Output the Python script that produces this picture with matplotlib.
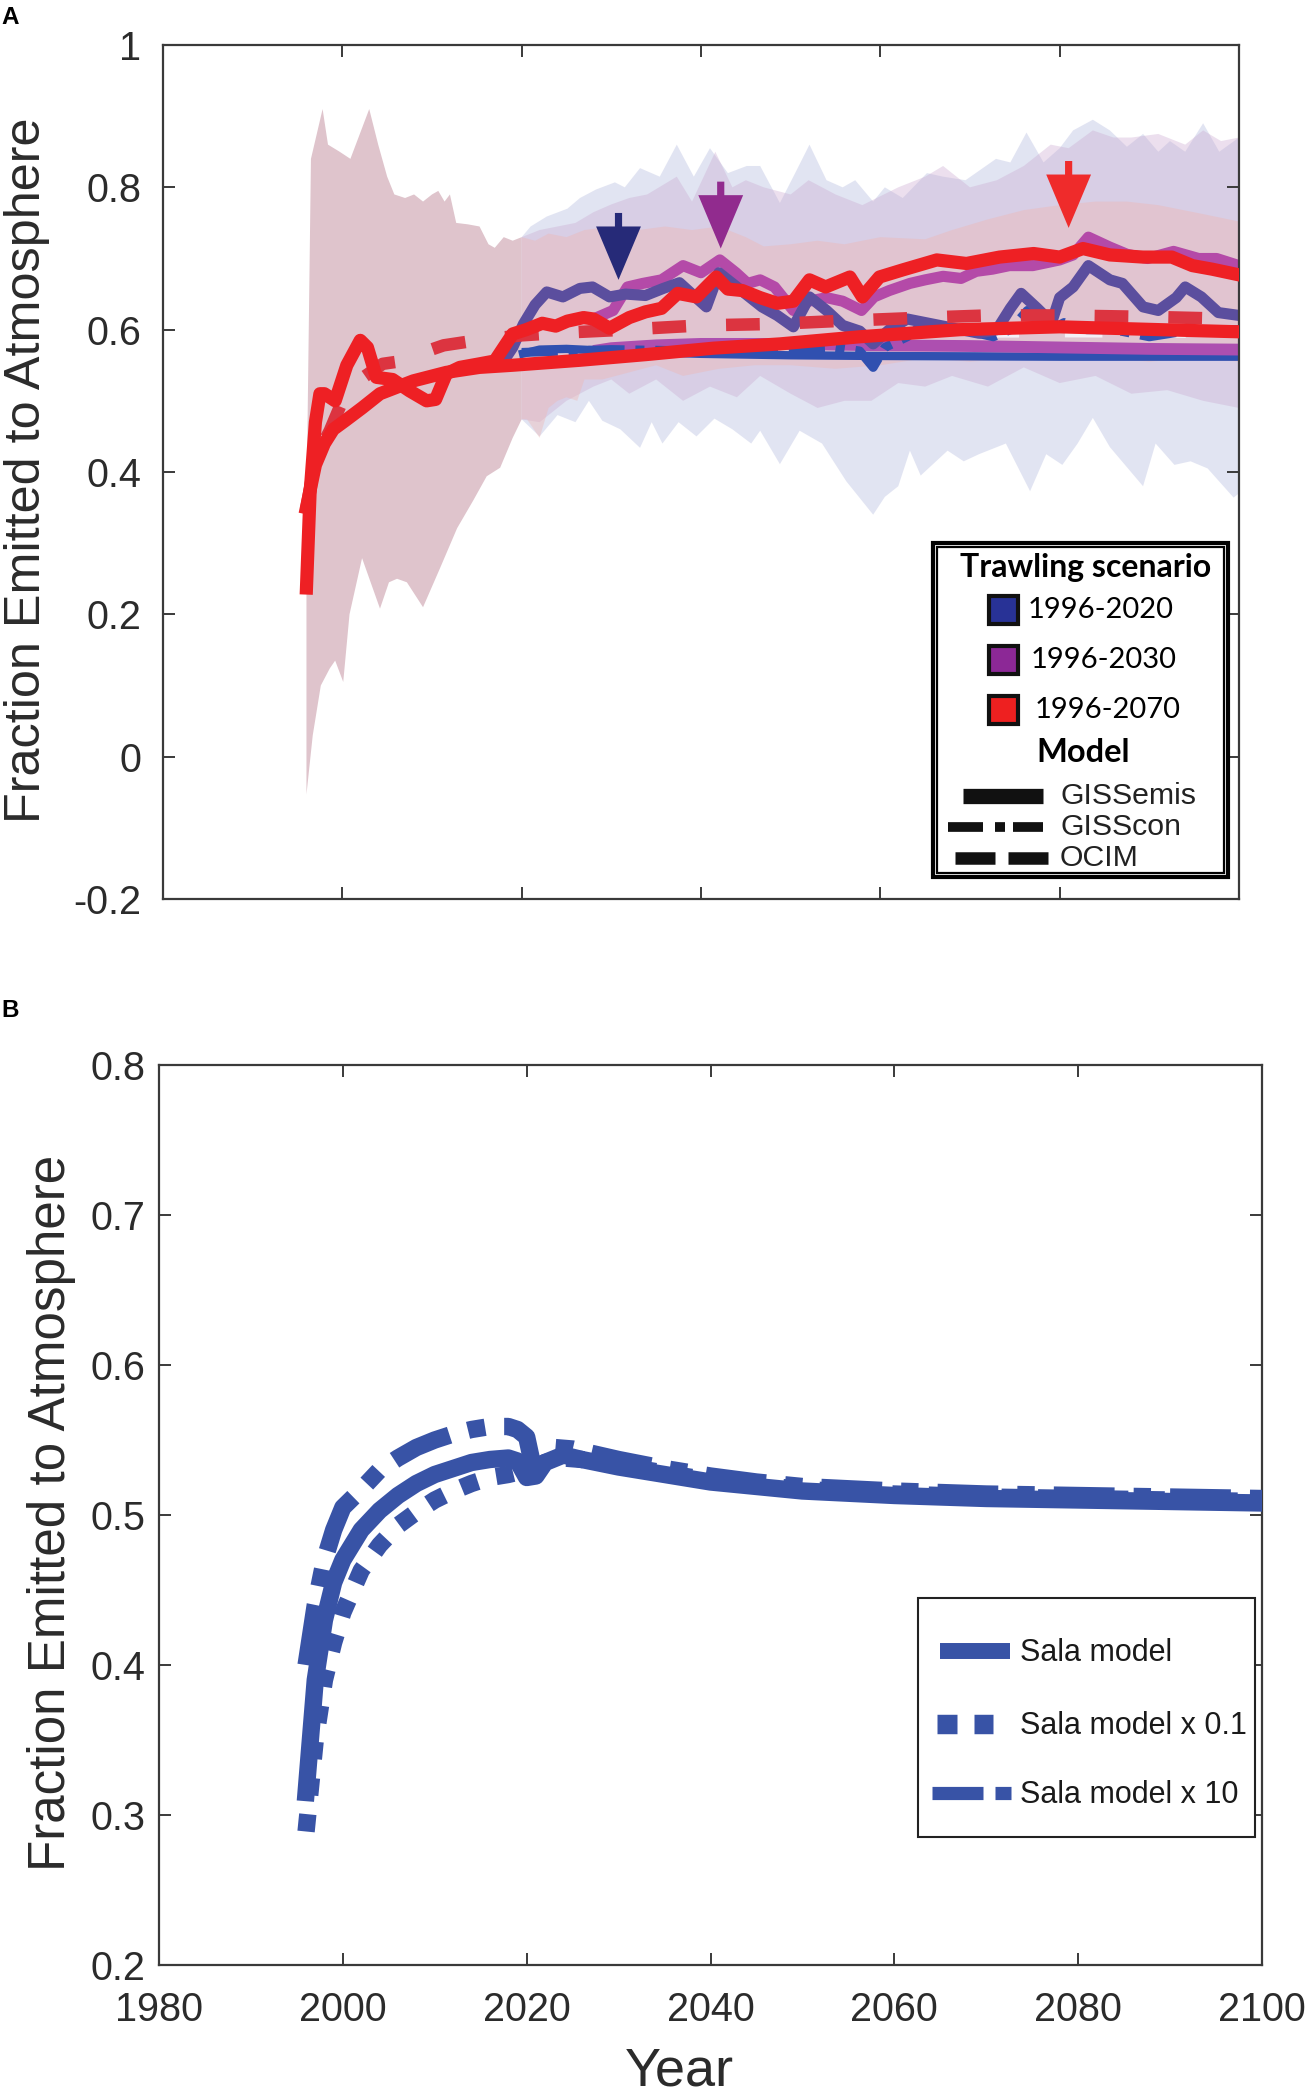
import numpy as np
import matplotlib
matplotlib.use("Agg")
import matplotlib.pyplot as plt
from matplotlib.patches import Rectangle
from matplotlib.lines import Line2D

plt.rcParams['font.family'] = ['Liberation Sans', 'DejaVu Sans']

# ---------------- DATA : panel A ----------------
# shared envelope (all scenarios identical before 2020)
common_up_x = [1996.0, 1996.5, 1997.8, 1998.4, 1999.7, 2000.9, 2003.0, 2004.0, 2005.0, 2005.8, 2007.0,
               2008.0, 2009.0, 2010.0, 2010.7, 2011.4, 2012.0, 2012.7, 2014.0, 2015.3, 2016.3, 2017.0,
               2018.0, 2019.0, 2020.0]
common_up_y = [0.35, 0.84, 0.91, 0.86, 0.85, 0.84, 0.91, 0.86, 0.815, 0.79, 0.785,
               0.79, 0.78, 0.79, 0.795, 0.78, 0.79, 0.75, 0.748, 0.745, 0.72, 0.715,
               0.73, 0.725, 0.73]
common_lo_x = [1996.0, 1996.7, 1997.6, 1998.6, 1999.2, 2000.1, 2000.8, 2002.2, 2004.2, 2005.2, 2006.1,
               2007.2, 2009.0, 2010.9, 2012.8, 2014.6, 2016.1, 2017.6, 2019.0, 2020.0]
common_lo_y = [-0.053, 0.03, 0.10, 0.124, 0.135, 0.105, 0.20, 0.279, 0.208, 0.245, 0.25,
               0.245, 0.21, 0.265, 0.321, 0.36, 0.394, 0.406, 0.448, 0.474]

# scenario envelopes after 2020
blue_up_x = [2020.0, 2021.0, 2022.8, 2025.1, 2026.5, 2028.3, 2030.4, 2031.5, 2033.2, 2035.4, 2037.3, 2039.2,
             2041.0, 2043.0, 2045.1, 2046.6, 2048.8, 2050.5, 2052.1, 2054.0, 2055.8, 2057.2, 2059.2, 2060.5,
             2062.5, 2065.2, 2067.0, 2069.5, 2072.9, 2074.5, 2076.3, 2078.2, 2080.0, 2081.5, 2083.7, 2085.6,
             2087.5, 2089.3, 2091.0, 2092.3, 2094.0, 2096.0, 2097.8, 2100.0]
blue_up_y = [0.73, 0.745, 0.759, 0.77, 0.785, 0.797, 0.807, 0.80, 0.827, 0.815, 0.86, 0.815,
             0.855, 0.82, 0.83, 0.83, 0.778, 0.82, 0.86, 0.81, 0.80, 0.81, 0.78, 0.80,
             0.785, 0.82, 0.815, 0.81, 0.84, 0.835, 0.877, 0.835, 0.855, 0.88, 0.895, 0.88,
             0.857, 0.875, 0.85, 0.865, 0.85, 0.89, 0.85, 0.87]
blue_lo_x = [2020.0, 2022.0, 2024.0, 2026.0, 2027.5, 2029.0, 2031.0, 2033.2, 2034.5, 2035.7, 2037.5, 2039.5,
             2041.5, 2043.5, 2045.6, 2046.6, 2048.8, 2051.0, 2053.5, 2056.2, 2059.2, 2060.5, 2062.0, 2063.3,
             2064.5, 2067.5, 2069.3, 2071.0, 2074.0, 2076.7, 2078.5, 2080.3, 2082.0, 2083.7, 2085.6, 2089.3,
             2090.7, 2092.8, 2094.6, 2096.5, 2099.4, 2100.0]
blue_lo_y = [0.474, 0.45, 0.48, 0.47, 0.50, 0.472, 0.46, 0.434, 0.47, 0.44, 0.47, 0.45,
             0.475, 0.46, 0.44, 0.458, 0.411, 0.458, 0.44, 0.387, 0.34, 0.365, 0.38, 0.43,
             0.395, 0.43, 0.415, 0.425, 0.44, 0.373, 0.425, 0.41, 0.44, 0.476, 0.435, 0.38,
             0.44, 0.41, 0.415, 0.405, 0.364, 0.37]
purple_up_x = [2020.0, 2022.0, 2024.0, 2026.0, 2028.0, 2030.0, 2032.0, 2034.0, 2037.3, 2039.0, 2041.6, 2043.5,
               2045.0, 2047.0, 2050.0, 2052.0, 2055.0, 2058.0, 2062.0, 2065.0, 2067.0, 2070.0, 2073.0, 2076.0,
               2079.0, 2081.0, 2083.7, 2086.0, 2088.0, 2091.0, 2094.0, 2096.0, 2098.0, 2100.0]
purple_up_y = [0.73, 0.74, 0.745, 0.75, 0.765, 0.776, 0.785, 0.79, 0.815, 0.78, 0.85, 0.80,
               0.81, 0.80, 0.79, 0.81, 0.79, 0.775, 0.80, 0.815, 0.83, 0.80, 0.81, 0.83,
               0.86, 0.855, 0.88, 0.87, 0.87, 0.875, 0.86, 0.88, 0.865, 0.87]
purple_lo_x = [2020.0, 2022.0, 2025.0, 2028.0, 2030.0, 2032.0, 2035.0, 2038.0, 2041.0, 2044.0, 2046.6, 2050.0,
               2053.0, 2056.0, 2059.0, 2062.0, 2065.0, 2068.0, 2072.0, 2076.0, 2080.0, 2084.0, 2088.0, 2092.0,
               2096.0, 2100.0]
purple_lo_y = [0.474, 0.47, 0.50, 0.52, 0.53, 0.51, 0.53, 0.50, 0.52, 0.505, 0.535, 0.51,
               0.49, 0.50, 0.50, 0.525, 0.52, 0.535, 0.52, 0.547, 0.525, 0.535, 0.51, 0.515,
               0.50, 0.49]
red_up_x = [2020.0, 2021.5, 2023.0, 2025.0, 2027.0, 2030.0, 2033.0, 2036.0, 2039.0, 2042.0, 2045.0, 2047.0,
            2050.0, 2053.0, 2056.0, 2060.0, 2065.0, 2068.0, 2072.0, 2076.0, 2080.0, 2084.0, 2087.5, 2091.0,
            2095.0, 2100.0]
red_up_y = [0.73, 0.725, 0.735, 0.73, 0.74, 0.745, 0.74, 0.745, 0.74, 0.745, 0.73, 0.717,
            0.72, 0.725, 0.72, 0.73, 0.727, 0.74, 0.755, 0.768, 0.775, 0.78, 0.78, 0.775,
            0.765, 0.752]
red_lo_x = [2020.0, 2020.6, 2022.0, 2023.0, 2024.0, 2025.0, 2026.2, 2027.0, 2029.0, 2032.0, 2035.0, 2038.0,
            2042.0, 2046.0, 2050.0, 2055.0, 2060.0, 2065.0, 2070.0, 2075.0, 2080.0, 2085.0, 2090.0, 2095.0,
            2100.0]
red_lo_y = [0.474, 0.474, 0.448, 0.49, 0.50, 0.505, 0.50, 0.53, 0.53, 0.54, 0.55, 0.535,
            0.545, 0.55, 0.55, 0.545, 0.55, 0.56, 0.555, 0.56, 0.565, 0.56, 0.555, 0.56,
            0.555]

# red scenario (1996-2070)
red_emis_x = [1996.0, 1996.4, 1997.0, 1997.5, 1998.0, 1999.2, 2000.5, 2002.0, 2002.8, 2003.8, 2005.6, 2007.5,
              2009.4, 2010.4, 2011.6, 2013.1, 2015.3, 2017.0, 2019.0, 2020.5, 2022.3, 2023.8, 2025.1, 2026.9,
              2028.0, 2029.8, 2032.0, 2033.8, 2035.6, 2037.4, 2039.5, 2041.7, 2043.0, 2044.6, 2046.6, 2048.5,
              2050.3, 2052.1, 2053.9, 2056.6, 2058.0, 2059.9, 2062.5, 2066.3, 2069.6, 2073.3, 2077.1, 2080.0,
              2082.6, 2085.6, 2089.3, 2092.5, 2094.8, 2097.0, 2100.0]
red_emis_y = [0.237, 0.37, 0.47, 0.51, 0.51, 0.50, 0.55, 0.585, 0.575, 0.533, 0.53, 0.514,
              0.50, 0.502, 0.538, 0.547, 0.552, 0.556, 0.594, 0.60, 0.609, 0.605, 0.612, 0.617,
              0.615, 0.602, 0.617, 0.625, 0.63, 0.651, 0.646, 0.674, 0.657, 0.655, 0.645, 0.637,
              0.64, 0.67, 0.66, 0.674, 0.646, 0.674, 0.684, 0.698, 0.693, 0.702, 0.707, 0.702,
              0.714, 0.705, 0.702, 0.702, 0.69, 0.685, 0.677]
red_con_x = [1996.0, 1996.5, 1997.0, 1998.0, 1999.0, 2000.3, 2002.2, 2004.2, 2007.9, 2011.6, 2015.3, 2019.0,
             2026.5, 2033.9, 2041.4, 2048.8, 2057.7, 2068.9, 2080.0, 2091.2, 2100.0]
red_con_y = [0.35, 0.38, 0.41, 0.44, 0.46, 0.472, 0.49, 0.51, 0.528, 0.54, 0.547, 0.55,
             0.557, 0.565, 0.574, 0.58, 0.59, 0.60, 0.604, 0.60, 0.597]
red_ocim_x = [1996.0, 1997.0, 1998.6, 2000.0, 2002.0, 2004.5, 2006.7, 2009.0, 2011.3, 2015.0, 2020.0, 2025.0,
              2030.0, 2040.0, 2048.0, 2055.0, 2065.0, 2072.0, 2080.0, 2090.0, 2100.0]
red_ocim_y = [0.35, 0.42, 0.458, 0.50, 0.53, 0.552, 0.556, 0.568, 0.578, 0.585, 0.592, 0.596,
              0.599, 0.606, 0.608, 0.612, 0.617, 0.62, 0.62, 0.618, 0.615]

# blue scenario (1996-2020)
blue_emis_x = [2018.0, 2019.0, 2020.2, 2021.5, 2022.8, 2024.6, 2026.5, 2027.9, 2029.8, 2031.6, 2033.8, 2035.8,
               2037.6, 2039.0, 2040.6, 2042.0, 2043.5, 2045.0, 2046.8, 2048.5, 2050.3, 2052.1, 2054.0, 2055.8,
               2057.7, 2059.2, 2061.0, 2063.0, 2065.0, 2067.0, 2069.0, 2071.0, 2073.0, 2074.5, 2075.7, 2077.5,
               2079.1, 2080.0, 2081.5, 2083.2, 2085.6, 2087.0, 2089.3, 2091.0, 2093.0, 2094.0, 2095.8, 2097.7,
               2100.0]
blue_emis_y = [0.556, 0.575, 0.608, 0.635, 0.653, 0.646, 0.658, 0.66, 0.646, 0.65, 0.648, 0.658,
               0.666, 0.65, 0.632, 0.68, 0.665, 0.65, 0.632, 0.62, 0.604, 0.646, 0.627, 0.606,
               0.598, 0.58, 0.60, 0.615, 0.61, 0.605, 0.60, 0.595, 0.60, 0.63, 0.651, 0.63,
               0.61, 0.645, 0.66, 0.69, 0.67, 0.665, 0.632, 0.627, 0.645, 0.66, 0.646, 0.624,
               0.62]
blue_con_x = [2020.0, 2030.0, 2040.0, 2050.0, 2055.0, 2057.7, 2059.2, 2060.5, 2063.0,
              2065.0, 2067.0, 2069.0, 2072.6, 2074.5, 2076.4, 2079.0, 2080.5, 2083.0, 2086.0, 2090.0, 2095.0,
              2100.0]
blue_con_y = [0.568, 0.572, 0.57, 0.572, 0.575, 0.57, 0.547, 0.575, 0.59,
              0.61, 0.60, 0.60, 0.59, 0.60, 0.627, 0.60, 0.61, 0.60, 0.60, 0.59, 0.60,
              0.60]
blue_ocim_x = [2019.7, 2022.0, 2025.0, 2030.0, 2040.0, 2050.0, 2060.0, 2080.0, 2100.0]
blue_ocim_y = [0.565, 0.572, 0.573, 0.57, 0.566, 0.564, 0.563, 0.562, 0.562]

# purple scenario (1996-2030)
purple_emis_x = [2028.0, 2030.2, 2031.8, 2033.5, 2035.6, 2038.0, 2040.0, 2042.1, 2043.9, 2045.2, 2046.6, 2048.2,
                 2050.3, 2052.0, 2054.0, 2055.8, 2057.9, 2059.3, 2061.0, 2063.3, 2065.0, 2067.0, 2069.0, 2070.7,
                 2072.5, 2074.4, 2077.0, 2080.0, 2081.5, 2083.2, 2085.6, 2087.5, 2089.8, 2092.7, 2095.5, 2097.5,
                 2100.0]
purple_emis_y = [0.615, 0.627, 0.66, 0.665, 0.67, 0.69, 0.68, 0.698, 0.68, 0.665, 0.67, 0.66,
                 0.627, 0.64, 0.645, 0.64, 0.627, 0.646, 0.655, 0.665, 0.67, 0.675, 0.672, 0.682,
                 0.685, 0.69, 0.69, 0.698, 0.705, 0.73, 0.716, 0.706, 0.70, 0.71, 0.70, 0.70,
                 0.69]
purple_con_x = [2028.0, 2030.0, 2035.0, 2040.0, 2050.0, 2060.0, 2070.0, 2080.0, 2090.0, 2100.0]
purple_con_y = [0.57, 0.574, 0.578, 0.58, 0.58, 0.578, 0.577, 0.575, 0.573, 0.572]
purple_ocim_x = [2062.0, 2080.0, 2100.0]
purple_ocim_y = [0.594, 0.595, 0.594]

# arrows marking the peaks
arrow_x = [2030.8, 2042.2, 2081.0]
arrow_top = [0.764, 0.808, 0.837]
arrow_tip = [0.67, 0.714, 0.743]

yticks_a = [-0.2, 0, 0.2, 0.4, 0.6, 0.8, 1]
yticklabels_a = ['-0.2', '0', '0.2', '0.4', '0.6', '0.8', '1']
xticks = [1980, 2000, 2020, 2040, 2060, 2080, 2100]
xticklabels = ['1980', '2000', '2020', '2040', '2060', '2080', '2100']

scenario_labels = ['1996-2020', '1996-2030', '1996-2070']
model_labels = ['GISSemis', 'GISScon', 'OCIM']

# ---------------- DATA : panel B ----------------
sala_x = [1996.0, 1997.0, 1998.0, 1999.0, 2000.0, 2002.0, 2004.0, 2006.0, 2008.0, 2010.0, 2012.0, 2014.0,
          2016.0, 2018.0, 2019.0, 2020.0, 2021.0, 2022.0, 2024.0, 2026.0, 2030.0, 2035.0, 2040.0, 2045.0,
          2050.0, 2060.0, 2070.0, 2080.0, 2090.0, 2100.0]
sala_y = [0.315, 0.39, 0.43, 0.455, 0.47, 0.49, 0.503, 0.513, 0.521, 0.527, 0.531, 0.535,
          0.537, 0.538, 0.536, 0.525, 0.526, 0.535, 0.54, 0.537, 0.532, 0.527, 0.522, 0.519,
          0.516, 0.513, 0.511, 0.51, 0.509, 0.508]
sala01_x = [1996.0, 1997.0, 1998.0, 1999.0, 2000.0, 2002.0, 2004.0, 2006.0, 2008.0, 2010.0, 2012.0, 2014.0,
            2016.0, 2018.0, 2020.0, 2022.0, 2024.0, 2026.0, 2030.0, 2035.0, 2040.0, 2045.0, 2050.0, 2060.0,
            2070.0, 2080.0, 2090.0, 2100.0]
sala01_y = [0.289, 0.35, 0.39, 0.415, 0.435, 0.463, 0.48, 0.493, 0.502, 0.51, 0.516, 0.521,
            0.525, 0.527, 0.53, 0.535, 0.538, 0.537, 0.533, 0.528, 0.523, 0.52, 0.517, 0.514,
            0.512, 0.511, 0.51, 0.509]
sala10_x = [1996.0, 1997.0, 1998.0, 1999.0, 2000.0, 2002.0, 2004.0, 2006.0, 2008.0, 2010.0, 2012.0, 2014.0,
            2016.0, 2018.0, 2019.0, 2020.0, 2020.6, 2021.5, 2023.0, 2025.0, 2030.0, 2035.0, 2040.0, 2045.0,
            2050.0, 2060.0, 2070.0, 2080.0, 2090.0, 2100.0]
sala10_y = [0.40, 0.44, 0.47, 0.49, 0.505, 0.517, 0.53, 0.538, 0.545, 0.55, 0.554, 0.557,
            0.559, 0.559, 0.557, 0.552, 0.535, 0.54, 0.545, 0.544, 0.537, 0.531, 0.526, 0.522,
            0.519, 0.516, 0.514, 0.513, 0.512, 0.511]
yticks_b = [0.2, 0.3, 0.4, 0.5, 0.6, 0.7, 0.8]
yticklabels_b = ['0.2', '0.3', '0.4', '0.5', '0.6', '0.7', '0.8']
sala_labels = ['Sala model', 'Sala model x 0.1', 'Sala model x 10']

# ---------------- FIGURE ----------------
W, H = 1307, 2098
fig = plt.figure(figsize=(W / 100, H / 100), dpi=100)
fig.patch.set_facecolor('white')

def FX(px):
    return px / W

def FY(py):
    return 1 - py / H

TXT = '#2b2b2b'
AXC = '#3a3a3a'

def style_axes(ax, pad_y):
    for s in ax.spines.values():
        s.set_color(AXC)
        s.set_linewidth(1.6)
    ax.tick_params(direction='in', length=8.5, width=1.4, colors=AXC,
                   top=True, right=True, labelsize=28.5, labelcolor=TXT)
    ax.tick_params(axis='y', pad=pad_y)
    ax.tick_params(axis='x', pad=19)

# ---- panel A ----
axA = fig.add_axes([FX(163), FY(899), FX(1239) - FX(163), FY(45) - FY(899)])
axA.set_xlim(1980, 2100)
axA.set_ylim(-0.2, 1.0)

def band(ax, ux, uy, lx, ly, **kw):
    px = np.concatenate([np.asarray(ux), np.asarray(lx)[::-1]])
    py = np.concatenate([np.asarray(uy), np.asarray(ly)[::-1]])
    ax.fill(px, py, lw=0, **kw)

band(axA, common_up_x, common_up_y, common_lo_x, common_lo_y, color='#dfc4cc', zorder=1)
band(axA, blue_up_x, blue_up_y, blue_lo_x, blue_lo_y, color='#c5cae6', alpha=0.5, zorder=1.1)
band(axA, purple_up_x, purple_up_y, purple_lo_x, purple_lo_y, color='#c9a6cf', alpha=0.35, zorder=1.2)
band(axA, red_up_x, red_up_y, red_lo_x, red_lo_y, color='#f0b4b0', alpha=0.38, zorder=1.3)

RED = '#ee2024'
SLATE = '#5b4e9e'
BBLUE = '#3050b0'
MAG = '#b44aa8'
PURP = '#ad4fb0'

axA.plot(blue_ocim_x, blue_ocim_y, color=BBLUE, lw=6, solid_capstyle='butt', zorder=2)
axA.plot(purple_con_x, purple_con_y, color=PURP, lw=8.5, solid_capstyle='butt', zorder=2.1)
axA.plot(purple_ocim_x, purple_ocim_y, color='#f4f0f7', lw=6, dashes=(4.5, 5.5), dash_capstyle='butt',
         zorder=2.15)
axA.plot(blue_con_x, blue_con_y, color=BBLUE, lw=6.5, dashes=(4, 1.2, 1, 1.2), dash_capstyle='butt',
         zorder=2.2)
axA.plot(purple_emis_x, purple_emis_y, color=MAG, lw=8, solid_joinstyle='round', zorder=2.3)
axA.plot(blue_emis_x, blue_emis_y, color=SLATE, lw=8, solid_joinstyle='round', zorder=2.4)
axA.plot(red_ocim_x, red_ocim_y, color='#dc3440', lw=9, dashes=(2.7, 3.2), dash_capstyle='butt', zorder=2.5)
axA.plot(red_con_x, red_con_y, color=RED, lw=9.5, solid_joinstyle='round', zorder=2.6)
axA.plot(red_emis_x, red_emis_y, color=RED, lw=9.5, solid_joinstyle='round', zorder=2.7)

arrow_colors = ['#262a78', '#912b8e', '#ef2b2b']
for x, t0, t1, c in zip(arrow_x, arrow_top, arrow_tip, arrow_colors):
    axA.arrow(x, t0, 0, t1 - t0, width=0.8, head_width=5.0, head_length=0.075,
              length_includes_head=True, color=c, lw=0, zorder=4)

axA.set_xticks(xticks)
axA.set_xticklabels([])
axA.set_yticks(yticks_a)
axA.set_yticklabels(yticklabels_a)
style_axes(axA, 15.5)

fig.text(FX(27), FY(470), 'Fraction Emitted to Atmosphere', rotation=90, ha='center', va='center',
         fontsize=36.3, color=TXT)
fig.text(FX(1), FY(6), 'A', fontsize=17.5, fontweight='bold', ha='left', va='top', color='black')

# legend A (drawn by hand, figure pixel coordinates)
fig.add_artist(Rectangle((FX(933), FY(877)), FX(1228) - FX(933), FY(543) - FY(877),
                         transform=fig.transFigure, facecolor='white', edgecolor='black', lw=3.0, zorder=10))
fig.add_artist(Rectangle((FX(937), FY(873)), FX(1224) - FX(937), FY(547) - FY(873),
                         transform=fig.transFigure, facecolor='none', edgecolor='black', lw=1.6, zorder=10))
LEGF = ['Lato', 'Liberation Sans', 'DejaVu Sans']
fig.text(FX(1086), FY(567), 'Trawling scenario', family=LEGF, fontweight='bold', fontsize=23,
         ha='center', va='center', zorder=11)
sq_colors = ['#283296', '#8c2896', '#ee2020']
sq_y = [610, 660, 710]
txt_x = [1028, 1031, 1035]
for lab, c, yy, tx in zip(scenario_labels, sq_colors, sq_y, txt_x):
    fig.add_artist(Rectangle((FX(989), FY(yy + 14)), FX(1018) - FX(989), FY(yy - 14) - FY(yy + 14),
                             transform=fig.transFigure, facecolor=c, edgecolor='#111111', lw=3, zorder=11))
    fig.text(FX(tx), FY(yy), lab, family=LEGF, fontsize=21, ha='left', va='center', zorder=11)
fig.text(FX(1083), FY(752), 'Model', family=LEGF, fontweight='bold', fontsize=23.5,
         ha='center', va='center', zorder=11)
mod_y = [796, 827, 858]
mod_segs = [[(963, 1043)], [(948, 983), (995, 1005), (1013, 1043)], [(955, 995), (1008, 1048)]]
mod_lw = [11, 7, 9]
for lab, yy, segs, lw in zip(model_labels, mod_y, mod_segs, mod_lw):
    for a, b in segs:
        fig.add_artist(Line2D([FX(a), FX(b)], [FY(yy), FY(yy)], transform=fig.transFigure,
                              color='#111111', lw=lw, solid_capstyle='butt', zorder=11))
    fig.text(FX(1060), FY(yy), lab, fontsize=21.8, ha='left', va='center', color='#222222', zorder=11)

# ---- panel B ----
axB = fig.add_axes([FX(159), FY(1965), FX(1262) - FX(159), FY(1065) - FY(1965)])
axB.set_xlim(1980, 2100)
axB.set_ylim(0.2, 0.8)
BLUE = '#3853a6'
axB.plot(sala10_x, sala10_y, color=BLUE, lw=12.5, dashes=(3.5, 1.1, 1.0, 1.1), dash_capstyle='butt', zorder=3)
axB.plot(sala_x, sala_y, color=BLUE, lw=12.5, solid_joinstyle='round', zorder=3)
axB.plot(sala01_x, sala01_y, color=BLUE, lw=12.5, dashes=(1.0, 1.1), dash_capstyle='butt', zorder=3)
axB.set_xticks(xticks)
axB.set_xticklabels(xticklabels)
axB.set_yticks(yticks_b)
axB.set_yticklabels(yticklabels_b)
style_axes(axB, 9.5)

fig.text(FX(52), FY(1513), 'Fraction Emitted to Atmosphere', rotation=90, ha='center', va='center',
         fontsize=36.8, color=TXT)
fig.text(FX(679), FY(2085), 'Year', ha='center', va='baseline', fontsize=39, color=TXT)
fig.text(FX(1), FY(999), 'B', fontsize=17.5, fontweight='bold', ha='left', va='top', color='black')

# legend B
fig.add_artist(Rectangle((FX(918), FY(1837)), FX(1255) - FX(918), FY(1598) - FY(1837),
                         transform=fig.transFigure, facecolor='white', edgecolor='#222222', lw=1.5, zorder=10))
leg_y = [1651, 1724, 1793]
leg_segs = [[(940, 1010)], [(937, 957), (974, 993)], [(932, 983), (995, 1011)]]
leg_lw = [11.5, 14, 9.5]
for lab, yy, segs, lw in zip(sala_labels, leg_y, leg_segs, leg_lw):
    for a, b in segs:
        fig.add_artist(Line2D([FX(a), FX(b)], [FY(yy), FY(yy)], transform=fig.transFigure,
                              color=BLUE, lw=lw, solid_capstyle='butt', zorder=11))
    fig.text(FX(1020), FY(yy + 2), lab, fontsize=22, ha='left', va='center', color='#1a1a1a', zorder=11)

fig.savefig('out.png', dpi=100, facecolor='white')
